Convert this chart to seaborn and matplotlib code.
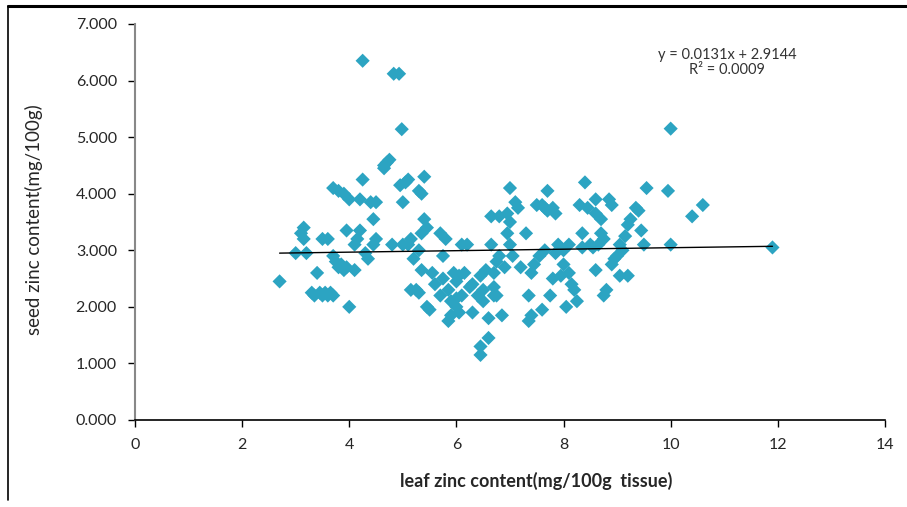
import numpy as np
import pandas as pd
import matplotlib
matplotlib.use("Agg")
import matplotlib.pyplot as plt
from matplotlib.lines import Line2D
import seaborn as sns

# -----------------------------
# Data
# -----------------------------
leaf_zinc = [
    2.70, 3.00, 3.10, 3.15, 3.15, 3.20,
    3.30, 3.35, 3.40, 3.45, 3.50, 3.55, 3.60, 3.65, 3.70,
    3.50, 3.60,
    3.70, 3.75, 3.80, 3.85, 3.90, 3.95,
    3.70, 3.80, 3.90,
    3.95, 4.00, 4.00,
    4.10, 4.10, 4.15, 4.20, 4.20, 4.25, 4.25,
    4.30, 4.35, 4.40, 4.45, 4.45, 4.50, 4.50,
    4.65, 4.70, 4.75, 4.65,
    4.80, 4.83, 4.93, 4.98,
    4.95, 5.00, 5.00, 5.05, 5.10, 5.10, 5.15,
    5.15, 5.25, 5.30, 5.20,
    5.30, 5.35, 5.40, 5.35, 5.40, 5.45, 5.30, 5.35,
    5.45, 5.50, 5.55,
    5.60, 5.70, 5.75, 5.70, 5.75, 5.80, 5.85,
    5.85, 5.90, 5.90, 5.95, 6.00, 6.00, 6.00, 6.05, 6.05, 6.10, 6.10, 6.15,
    6.20, 6.25, 6.30, 6.30,
    6.40, 6.45, 6.45, 6.45, 6.50, 6.50, 6.55, 6.60, 6.60,
    6.65, 6.65, 6.70, 6.70, 6.70, 6.75, 6.75, 6.80, 6.80, 6.85,
    6.90, 6.95, 6.95, 7.00, 7.00, 7.00, 7.05, 7.10, 7.15, 7.20, 7.30,
    7.35, 7.35, 7.40, 7.40, 7.45,
    7.50, 7.55, 7.60, 7.65, 7.65, 7.60, 7.70, 7.70, 7.75, 7.80, 7.85, 7.80,
    7.85, 7.90, 7.95, 8.00, 8.00, 8.05, 8.10, 8.10, 8.15, 8.20, 8.25,
    8.30, 8.35, 8.35, 8.40, 8.45, 8.50, 8.55, 8.60, 8.60, 8.60, 8.65, 8.70,
    8.70, 8.75, 8.75, 8.80, 8.85, 8.90, 8.90, 8.95, 9.00, 9.05, 9.05, 9.10,
    9.15,
    9.20, 9.25, 9.20, 9.35, 9.40, 9.45, 9.50, 9.55,
    9.95, 10.00, 10.00, 10.40, 10.60, 11.90,
]
seed_zinc = [
    2.45, 2.95, 3.30, 3.40, 3.20, 2.95,
    2.25, 2.20, 2.60, 2.25, 2.20, 2.25, 2.20, 2.25, 2.20,
    3.20, 3.20,
    2.90, 2.80, 2.70, 2.75, 2.65, 2.70,
    4.10, 4.05, 4.00,
    3.35, 3.90, 2.00,
    2.65, 3.10, 3.20, 3.90, 3.35, 6.35, 4.25,
    2.95, 2.85, 3.85, 3.10, 3.55, 3.20, 3.85,
    4.50, 4.55, 4.60, 4.45,
    3.10, 6.12, 6.12, 5.14,
    4.15, 3.85, 3.10, 4.20, 4.25, 3.10, 3.20,
    2.30, 2.30, 2.25, 2.85,
    4.05, 4.00, 4.30, 3.30, 3.55, 3.40, 3.00, 2.65,
    2.00, 1.95, 2.60,
    2.40, 3.30, 2.90, 2.20, 2.50, 3.20, 2.30,
    1.75, 1.85, 2.10, 2.60, 2.00, 2.15, 2.45, 2.55, 1.90, 2.20, 3.10, 2.60,
    3.10, 2.35, 2.40, 1.90,
    2.20, 2.55, 1.30, 1.15, 2.30, 2.10, 2.65, 1.45, 1.80,
    3.10, 3.60, 2.20, 2.35, 2.60, 2.80, 2.20, 2.90, 3.60, 1.85,
    2.70, 3.30, 3.65, 3.50, 3.10, 4.10, 2.90, 3.85, 3.75, 2.70, 3.30,
    2.20, 1.75, 1.85, 2.60, 2.75,
    3.80, 2.90, 3.80, 3.75, 3.00, 1.95, 3.70, 4.05, 2.20, 3.75, 3.65, 2.50,
    2.95, 3.10, 2.55, 2.75, 3.00, 2.00, 2.60, 3.10, 2.40, 2.30, 2.10,
    3.80, 3.30, 3.05, 4.20, 3.75, 3.10, 3.05, 3.65, 3.90, 2.65, 3.10, 3.55,
    3.30, 2.20, 3.20, 2.30, 3.90, 3.80, 2.75, 2.85, 2.90, 3.10, 2.55, 3.00,
    3.25,
    3.45, 3.55, 2.55, 3.75, 3.70, 3.35, 3.10, 4.10,
    4.05, 5.15, 3.10, 3.60, 3.80, 3.05,
]

# Linear trendline as printed on the chart
TREND_SLOPE = 0.0131
TREND_INTERCEPT = 2.9144
TREND_LABEL = "y = 0.0131x + 2.9144\nR\u00b2 = 0.0009"

x_ticks = [0, 2, 4, 6, 8, 10, 12, 14]
y_ticks = [0, 1, 2, 3, 4, 5, 6, 7]

df = pd.DataFrame({"leaf": leaf_zinc, "seed": seed_zinc})

# -----------------------------
# Plot
# -----------------------------
sns.set_style("white")
plt.rcParams["font.family"] = ["Lato", "DejaVu Sans"]

fig = plt.figure(figsize=(9.07, 5.07), dpi=100)
ax = fig.add_axes([0.1488, 0.1716, 0.8269, 0.7811])

sns.scatterplot(data=df, x="leaf", y="seed", marker="D", s=52,
                color="#2ca4c2", edgecolor="none", linewidth=0, ax=ax, zorder=2)

xs = np.array([df["leaf"].min(), df["leaf"].max()])
ax.plot(xs, TREND_SLOPE * xs + TREND_INTERCEPT, color="black", lw=1.0, zorder=3)

ax.text(11.05, 6.32, TREND_LABEL, ha="center", va="center", fontsize=10.5,
        color="#333333", linespacing=1.15)

ax.set_xlim(0, 14)
ax.set_ylim(0, 7)
ax.set_xticks(x_ticks)
ax.set_yticks(y_ticks)
ax.set_xticklabels([str(t) for t in x_ticks], fontsize=11.5)
ax.set_yticklabels([f"{t:.3f}" for t in y_ticks], fontsize=11.5)
ax.tick_params(axis="both", direction="out", length=5, width=1, color="black",
               bottom=True, left=True, pad=8)

for side in ["top", "right"]:
    ax.spines[side].set_visible(False)
ax.spines["bottom"].set_color("black")
ax.spines["bottom"].set_linewidth(1.2)
ax.spines["left"].set_color("#888888")
ax.spines["left"].set_linewidth(1.5)

ax.set_xlabel("leaf zinc content(mg/100g  tissue)", fontsize=13, fontweight="bold")
ax.set_ylabel("seed zinc content(mg/100g)", fontsize=13.5)
ax.xaxis.set_label_coords(0.535, -0.13)
ax.yaxis.set_label_coords(-0.122, 0.505)

# outer frame lines (top and left edge of the original figure)
fig.add_artist(Line2D([8 / 907, 1.0], [1 - 6 / 507, 1 - 6 / 507],
                      color="black", lw=2.2, transform=fig.transFigure))
fig.add_artist(Line2D([8 / 907, 8 / 907], [1 - 6 / 507, 1 - 500 / 507],
                      color="black", lw=1.2, transform=fig.transFigure))

fig.savefig("out.png", dpi=100)
plt.close(fig)
print(" Saved out.png")
